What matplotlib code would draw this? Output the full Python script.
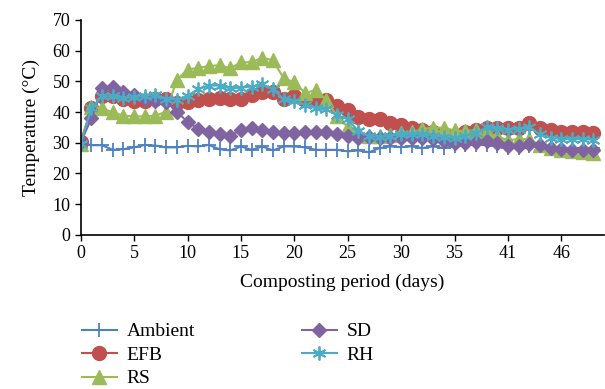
import numpy as np
import matplotlib.pyplot as plt

plt.rcParams['font.family'] = ['Liberation Serif', 'DejaVu Serif']

# composting days (day 40 not sampled)
days = list(range(0, 40)) + list(range(41, 50))

ambient = [30.0, 29.2, 29.2, 27.7, 27.9, 28.5, 29.3, 29.1, 28.5, 28.5,
           29.0, 28.8, 29.3, 27.9, 27.5, 28.8, 27.7, 28.8, 27.5, 28.8,
           28.8, 28.5, 27.7, 27.7, 27.7, 27.2, 27.5, 26.9, 28.3, 28.8,
           28.6, 28.8, 28.3, 28.8, 28.3, 28.8, 29.3, 29.3, 29.3, 28.8,
           28.3, 28.3, 28.8, 28.8, 28.3, 28.3, 28.3, 28.3, 28.3]
efb = [30.4, 41.2, 45.1, 45.1, 44.2, 43.5, 43.5, 44.2, 44.2, 43.1,
       43.3, 44.0, 44.2, 44.6, 44.4, 44.4, 45.7, 46.6, 46.4, 44.2,
       45.1, 44.0, 44.0, 43.8, 42.1, 40.8, 38.4, 37.7, 37.7, 36.4,
       35.8, 34.9, 34.0, 33.4, 32.9, 32.3, 33.4, 34.0, 34.9, 34.7,
       34.7, 34.9, 36.4, 34.9, 34.2, 33.6, 33.6, 33.6, 33.1]
rs = [29.7, 41.6, 41.2, 39.9, 38.8, 38.6, 38.6, 38.8, 40.1, 50.5,
      53.8, 54.4, 54.9, 55.3, 54.2, 56.2, 56.2, 57.7, 56.8, 51.0,
      49.7, 46.2, 47.1, 44.0, 38.6, 35.1, 33.4, 32.1, 32.1, 32.6,
      33.1, 33.4, 34.5, 34.9, 34.9, 34.0, 33.8, 34.2, 33.4, 32.1,
      30.8, 31.2, 31.2, 29.2, 28.4, 27.5, 27.2, 26.9, 26.7]
sd = [30.1, 37.9, 47.7, 48.3, 46.6, 45.5, 44.4, 43.5, 43.4, 40.1,
      36.8, 34.6, 33.6, 32.9, 32.3, 34.2, 34.9, 34.0, 33.6, 33.1,
      33.1, 33.4, 33.6, 33.4, 32.7, 32.1, 31.4, 31.8, 31.6, 31.6,
      31.6, 31.6, 31.4, 31.2, 30.5, 29.9, 29.9, 30.1, 30.5, 29.9,
      28.8, 28.8, 29.5, 29.2, 28.4, 27.9, 27.5, 27.5, 27.5]
rh = [29.7, 41.2, 45.1, 45.1, 44.6, 44.8, 45.3, 45.5, 44.4, 44.0,
      45.3, 47.5, 48.6, 48.6, 47.7, 47.9, 48.3, 49.0, 47.5, 44.2,
      43.5, 42.4, 41.2, 40.9, 39.0, 37.6, 33.8, 32.3, 31.8, 32.3,
      32.7, 32.9, 32.7, 32.3, 31.8, 31.6, 32.3, 33.1, 35.1, 34.7,
      34.2, 34.5, 35.1, 32.7, 31.6, 31.2, 31.2, 31.2, 31.0]

x = np.arange(len(days))

fig = plt.figure(figsize=(6.05, 3.89), dpi=100)
ax = fig.add_axes([0.1334, 0.396, 0.865, 0.553])

ax.plot(x, ambient, color='#4F81BD', marker='+', markersize=10, mew=1.3, lw=1.5, label='Ambient')
ax.plot(x, efb, color='#C0504D', marker='o', markersize=10, lw=1.5, label='EFB')
ax.plot(x, rs, color='#9BBB59', marker='^', markersize=10.5, lw=1.5, label='RS')
ax.plot(x, sd, color='#8064A2', marker='D', markersize=7.5, lw=1.5, label='SD')
ax.plot(x, rh, color='#4BACC6', marker=(6, 2, 0), markersize=10, mew=1.3, lw=1.5, label='RH')

ax.set_xlim(0, 49)
ax.set_ylim(0, 70)
ax.set_yticks(range(0, 71, 10))
ax.set_xticks(x[::5])
ax.set_xticklabels([str(d) for d in days[::5]])
ax.tick_params(labelsize=13, length=4, width=1)
for s in ['top', 'right']:
    ax.spines[s].set_visible(False)
ax.spines['left'].set_linewidth(1.2)
ax.spines['bottom'].set_linewidth(1.2)

ax.set_xlabel('Composting period (days)', fontsize=14, labelpad=8)
ax.set_ylabel('Temperature (°C)', fontsize=14, labelpad=9)

fig.legend(loc='upper left', bbox_to_anchor=(0.119, 0.195), ncol=2, frameon=False,
           fontsize=14, handlelength=1.8, columnspacing=5.5, labelspacing=0.3,
           handletextpad=0.5, borderpad=0)

fig.savefig('out.png', dpi=100)
